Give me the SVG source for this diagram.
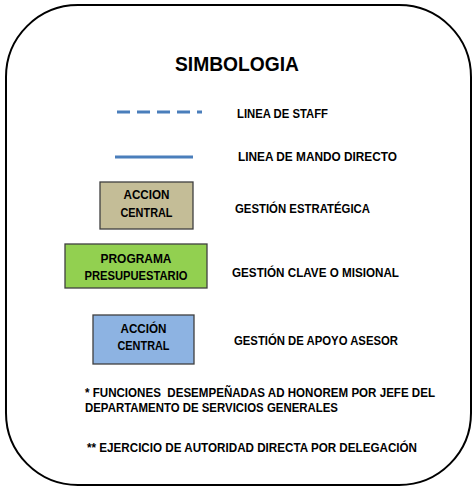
<svg xmlns="http://www.w3.org/2000/svg" width="474" height="488" viewBox="0 0 474 488">
<style>
text{font-family:"Liberation Sans",Arial,sans-serif;font-weight:bold;fill:#000;}
.lbl{font-size:12px;}
.box{font-size:12px;text-anchor:middle;}
.node rect{stroke:#3f3f3f;stroke-width:1.3;}
.ln{stroke:#4a7ebb;stroke-width:3;fill:none;}
</style>
<rect x="6" y="5" width="465" height="480" rx="72" ry="72" fill="#fff" stroke="#000" stroke-width="2"/>
<text x="237" y="71" font-size="20" text-anchor="middle" textLength="124" lengthAdjust="spacingAndGlyphs">SIMBOLOGIA</text>
<g id="connectors">
<line class="ln" x1="117" y1="112" x2="202" y2="112" stroke-dasharray="13,7"/>
<line class="ln" x1="115" y1="157" x2="193" y2="157"/>
</g>
<text class="lbl" x="237" y="118" textLength="91" lengthAdjust="spacingAndGlyphs">LINEA DE STAFF</text>
<text class="lbl" x="238" y="161" textLength="159" lengthAdjust="spacingAndGlyphs">LINEA DE MANDO DIRECTO</text>
<g id="node-accion-central-1" class="node">
<rect x="100" y="182" width="93" height="47" fill="#c4bd97"/>
<text class="box" x="146.5" y="199" textLength="46" lengthAdjust="spacingAndGlyphs">ACCION</text>
<text class="box" x="146.5" y="217" textLength="52" lengthAdjust="spacingAndGlyphs">CENTRAL</text>
</g>
<text class="lbl" x="235" y="213" textLength="135" lengthAdjust="spacingAndGlyphs">GESTIÓN ESTRATÉGICA</text>
<g id="node-programa" class="node">
<rect x="65" y="244" width="142" height="44" fill="#92d050"/>
<text class="box" x="136" y="263" textLength="71" lengthAdjust="spacingAndGlyphs">PROGRAMA</text>
<text class="box" x="136" y="280" textLength="103" lengthAdjust="spacingAndGlyphs">PRESUPUESTARIO</text>
</g>
<text class="lbl" x="232" y="277" textLength="167" lengthAdjust="spacingAndGlyphs">GESTIÓN CLAVE O MISIONAL</text>
<g id="node-accion-central-2" class="node">
<rect x="93" y="315" width="101" height="49" fill="#8db3e2"/>
<text class="box" x="143.5" y="333" textLength="46" lengthAdjust="spacingAndGlyphs">ACCIÓN</text>
<text class="box" x="143.5" y="350" textLength="52" lengthAdjust="spacingAndGlyphs">CENTRAL</text>
</g>
<text class="lbl" x="234" y="345" textLength="164" lengthAdjust="spacingAndGlyphs">GESTIÓN DE APOYO ASESOR</text>
<text class="lbl" x="85" y="397" textLength="350" lengthAdjust="spacingAndGlyphs" xml:space="preserve">* FUNCIONES  DESEMPEÑADAS AD HONOREM POR JEFE DEL</text>
<text class="lbl" x="85" y="412" textLength="253" lengthAdjust="spacingAndGlyphs">DEPARTAMENTO DE SERVICIOS GENERALES</text>
<text class="lbl" x="87" y="452" textLength="330" lengthAdjust="spacingAndGlyphs">** EJERCICIO DE AUTORIDAD DIRECTA POR DELEGACIÓN</text>
</svg>
